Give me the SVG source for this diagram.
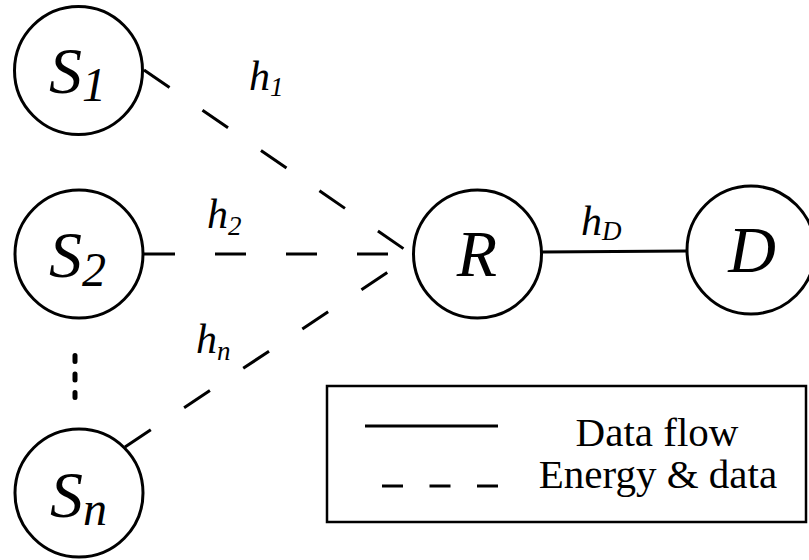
<svg xmlns="http://www.w3.org/2000/svg" width="809" height="560" viewBox="0 0 809 560">
<style>
.node{fill:#fff;stroke:#000;stroke-width:3}
.lbl{font-family:"Liberation Serif","Times New Roman",serif;font-style:italic;font-size:66px;fill:#000}
.sub{font-size:48px}
.hl{font-family:"Liberation Serif","Times New Roman",serif;font-style:italic;font-size:42px;fill:#000}
.hs{font-size:27px}
.dash{stroke:#000;stroke-width:3;fill:none;stroke-dasharray:31 40}
.solid{stroke:#000;stroke-width:3;fill:none}
.leg{font-family:"Liberation Serif","Times New Roman",serif;font-size:41px;fill:#000}
</style>
<rect width="809" height="560" fill="#fff"/>
<g id="connectors">
<line class="dash" x1="144" y1="70" x2="404" y2="249"/>
<line class="dash" x1="144" y1="254" x2="388" y2="254"/>
<line class="dash" x1="125" y1="447" x2="388" y2="272"/>
<line class="solid" x1="542" y1="252" x2="687" y2="251"/>
<line x1="75" y1="355.5" x2="75" y2="397.5" stroke="#000" stroke-width="5" stroke-linecap="round" stroke-dasharray="6 12.5"/>
<text class="hl" x="249" y="90">h<tspan class="hs" dy="6">1</tspan></text>
<text class="hl" x="207" y="228">h<tspan class="hs" dy="7">2</tspan></text>
<text class="hl" x="196" y="353">h<tspan class="hs" dy="7">n</tspan></text>
<text class="hl" x="581" y="235">h<tspan class="hs" dy="5">D</tspan></text>
</g>
<g id="S1">
<circle class="node" cx="78.5" cy="70.5" r="64"/>
<text class="lbl" x="49" y="93">S<tspan class="sub" dy="8">1</tspan></text>
</g>
<g id="S2">
<circle class="node" cx="79" cy="254" r="64"/>
<text class="lbl" x="49" y="277">S<tspan class="sub" dy="9">2</tspan></text>
</g>
<g id="Sn">
<circle class="node" cx="79" cy="493" r="64"/>
<text class="lbl" x="50" y="517">S<tspan class="sub" dy="8">n</tspan></text>
</g>
<g id="R">
<circle class="node" cx="477.5" cy="254" r="64"/>
<text class="lbl" x="477" y="276" text-anchor="middle">R</text>
</g>
<g id="D">
<circle class="node" cx="751" cy="250" r="64"/>
<text class="lbl" x="752" y="272" text-anchor="middle">D</text>
</g>
<g id="legend">
<rect x="327" y="386" width="479" height="136" fill="none" stroke="#000" stroke-width="2.5"/>
<line class="solid" x1="365" y1="426" x2="498" y2="426"/>
<line x1="382" y1="486" x2="498" y2="486" stroke="#000" stroke-width="3" stroke-dasharray="21 26.5"/>
<text class="leg" x="657" y="446" text-anchor="middle">Data flow</text>
<text class="leg" x="658" y="488" text-anchor="middle">Energy &amp; data</text>
</g>
</svg>
